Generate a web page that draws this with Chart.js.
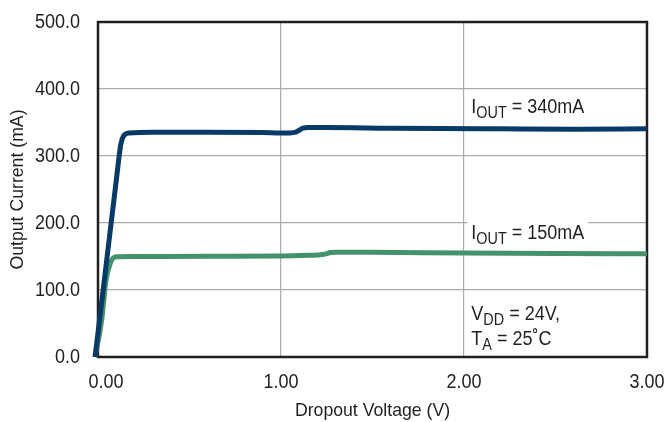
<!DOCTYPE html>
<html>
<head>
<meta charset="utf-8">
<script src="https://cdn.jsdelivr.net/npm/chart.js@4.4.1/dist/chart.umd.min.js"></script>
<style>
  html, body { margin: 0; padding: 0; background: #fff; }
  #wrap { width: 665px; height: 422px; }
</style>
</head>
<body>
<div id="wrap"><canvas id="c" width="665" height="422"></canvas></div>
<script>
// ---- Data ----
const xTickValues = [0, 1, 2, 3];
const xTickLabels = ['0.00', '1.00', '2.00', '3.00'];
const yTickValues = [0, 100, 200, 300, 400, 500];
const yTickLabels = ['0.0', '100.0', '200.0', '300.0', '400.0', '500.0'];

const x340 = [-0.016, 0.05, 0.10, 0.125, 0.14, 0.17, 0.30, 0.60, 0.90, 1.00, 1.05, 1.08, 1.10, 1.12, 1.15, 1.25, 1.60, 2.20, 2.60, 3.00];
const y340 = [0, 150, 264, 318, 330, 334.5, 335.5, 335.5, 335, 334.5, 334.5, 335.5, 338.5, 341.5, 342.5, 342.5, 341.5, 340.5, 340, 340.5];

const x150 = [-0.016, 0.02, 0.044, 0.07, 0.085, 0.10, 0.20, 0.60, 1.00, 1.15, 1.20, 1.24, 1.27, 1.30, 1.50, 2.00, 2.50, 3.00];
const y150 = [0, 55, 115, 142, 148, 149.5, 150, 150.3, 150.8, 151.8, 152.3, 153.5, 156, 156.5, 156.3, 155.3, 154.5, 154];

const seriesNames = ['I_OUT = 340mA', 'I_OUT = 150mA'];
const xTitle = 'Dropout Voltage (V)';
const yTitle = 'Output Current (mA)';

const FONT = "'Liberation Sans', Arial, sans-serif";
const TXT = '#231f20';
const K = 0.9; // horizontal condensing of text

function pts(xs, ys) { return xs.map((x, i) => ({ x: x, y: ys[i] })); }

// Annotation texts: arrays of [text, isSub]
const annotations = [
  { x: 2.04, y: 364, parts: [['I', false], ['OUT', true], [' = 340mA', false]] },
  { x: 2.04, y: 176, parts: [['I', false], ['OUT', true], [' = 150mA', false]], box: true },
  { x: 2.04, y: 55, parts: [['V', false], ['DD', true], [' = 24V,', false]] },
  { x: 2.04, y: 18, parts: [['T', false], ['A', true], [' = 25\u02DAC', false]] }
];

function condText(ctx, text, x, y, size, align, baseline, k, rot) {
  ctx.save();
  ctx.translate(x, y);
  if (rot) ctx.rotate(rot);
  ctx.scale(k, 1);
  ctx.font = size + 'px ' + FONT;
  ctx.textAlign = align;
  ctx.textBaseline = baseline;
  ctx.fillText(text, 0, 0);
  const w = ctx.measureText(text).width * k;
  ctx.restore();
  return w;
}

function partsWidth(ctx, parts) {
  let w = 0;
  for (const [t, sub] of parts) { ctx.font = (sub ? '16px ' : '20px ') + FONT; w += ctx.measureText(t).width * K; }
  return w;
}

function drawParts(ctx, parts, px, py) {
  let cx = px;
  for (const [t, sub] of parts) {
    cx += condText(ctx, t, cx, py + (sub ? 5 : 0), sub ? 16 : 20, 'left', 'alphabetic', K, 0);
  }
}

const plugin = {
  id: 'custom',
  beforeDatasetsDraw(chart) {
    const ctx = chart.ctx, xs = chart.scales.x, ys = chart.scales.y, a = chart.chartArea;
    ctx.save();
    ctx.fillStyle = TXT;
    for (const an of annotations) {
      const px = xs.getPixelForValue(an.x), py = ys.getPixelForValue(an.y);
      if (an.box) {
        const w = partsWidth(ctx, an.parts);
        ctx.fillStyle = '#fff';
        ctx.fillRect(px - 4, py - 20, w + 8, 28);
        ctx.fillStyle = TXT;
      }
      drawParts(ctx, an.parts, px, py);
    }
    // frame
    ctx.strokeStyle = TXT;
    ctx.lineWidth = 2.5;
    ctx.strokeRect(a.left, a.top, a.right - a.left, a.bottom - a.top);
    // x tick labels
    ctx.fillStyle = TXT;
    xTickValues.forEach((v, i) => {
      const px = xs.getPixelForValue(v) + (i === 0 ? 8 : 0);
      condText(ctx, xTickLabels[i], px, a.bottom + 25, 20, 'center', 'middle', K, 0);
    });
    // y tick labels
    yTickValues.forEach((v, i) => {
      const py = ys.getPixelForValue(v);
      condText(ctx, yTickLabels[i], a.left - 18, py, 20, 'right', 'middle', K, 0);
    });
    // axis titles
    condText(ctx, xTitle, (a.left + a.right) / 2, 411, 19, 'center', 'middle', 0.93, 0);
    condText(ctx, yTitle, 18, (a.top + a.bottom) / 2, 19, 'center', 'middle', 0.93, -Math.PI / 2);
    ctx.restore();
  }
};

new Chart(document.getElementById('c'), {
  type: 'line',
  data: {
    datasets: [
      {
        label: seriesNames[0],
        data: pts(x340, y340),
        borderColor: '#073a66',
        borderWidth: 5,
        pointRadius: 0,
        cubicInterpolationMode: 'monotone',
        clip: false,
        fill: false
      },
      {
        label: seriesNames[1],
        data: pts(x150, y150),
        borderColor: '#43926a',
        borderWidth: 5,
        pointRadius: 0,
        cubicInterpolationMode: 'monotone',
        clip: false,
        fill: false
      }
    ]
  },
  options: {
    responsive: false,
    animation: false,
    devicePixelRatio: 1,
    layout: { padding: { top: 22, right: 18, left: 0, bottom: 0 } },
    plugins: { legend: { display: false }, tooltip: { enabled: false } },
    scales: {
      x: {
        type: 'linear',
        min: 0, max: 3,
        afterBuildTicks(s) { s.ticks = xTickValues.map(v => ({ value: v })); },
        afterFit(s) { s.height = 65; },
        ticks: { display: false },
        grid: { color: '#ababab', lineWidth: 1.2, drawTicks: false },
        border: { display: false }
      },
      y: {
        type: 'linear',
        min: 0, max: 500,
        afterBuildTicks(s) { s.ticks = yTickValues.map(v => ({ value: v })); },
        afterFit(s) { s.width = 98; },
        ticks: { display: false },
        grid: { color: '#ababab', lineWidth: 1.2, drawTicks: false },
        border: { display: false }
      }
    }
  },
  plugins: [plugin]
});
</script>
</body>
</html>
